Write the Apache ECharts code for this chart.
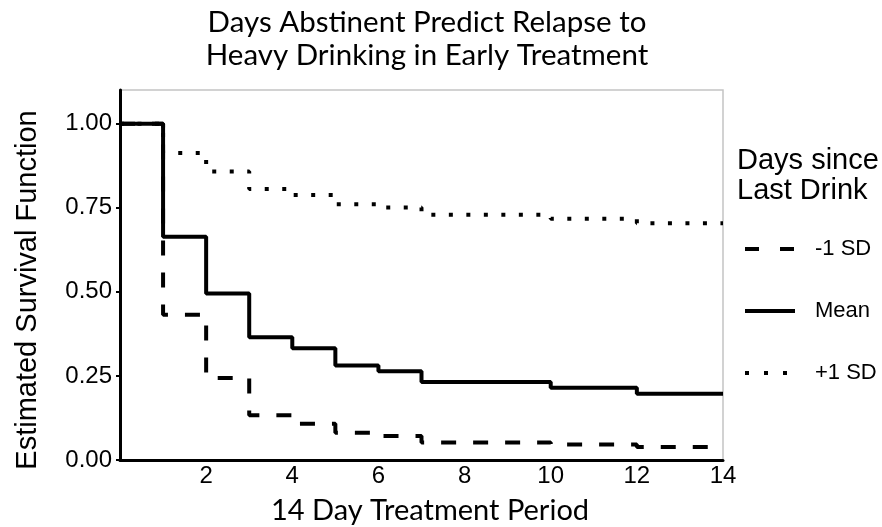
<!DOCTYPE html>
<html>
<head>
<meta charset="utf-8">
<script src="https://cdn.jsdelivr.net/npm/echarts@6/dist/echarts.min.js"></script>
<style>html,body{margin:0;padding:0;background:#fff;}#chart{width:882px;height:527px;}</style>
</head>
<body>
<div id="chart"></div>
<script>
// Step times (days) where the survival estimate changes; last entry closes the curve
var times = [0, 1, 2, 3, 4, 5, 6, 7, 10, 12, 14];
var minus1SD = [1.00, 0.432, 0.244, 0.133, 0.108, 0.081, 0.071, 0.052, 0.046, 0.039, 0.039];
var meanVals = [1.00, 0.664, 0.495, 0.365, 0.332, 0.281, 0.264, 0.232, 0.215, 0.197, 0.197];
var plus1SD  = [1.00, 0.913, 0.858, 0.806, 0.788, 0.760, 0.751, 0.729, 0.717, 0.704, 0.704];
var seriesNames = ['-1 SD', 'Mean', '+1 SD'];
var yTicks = [0, 0.25, 0.5, 0.75, 1.0];
var xTicks = [2, 4, 6, 8, 10, 12, 14];

function pairs(vals){ return times.map(function(t,i){ return [t, vals[i]]; }); }

var chart = echarts.init(document.getElementById('chart'), null, {renderer:'canvas'});
var lineStyles = [
  {color:'#000', width:4, type:[15,17], cap:'butt'},
  {color:'#000', width:4, type:'solid'},
  {color:'#000', width:4, type:[4,13.5], cap:'butt'}
];
var legendLineStyles = [
  {color:'#000', width:4, type:[14,21], cap:'butt'},
  {color:'#000', width:4, type:'solid'},
  {color:'#000', width:4, type:[4,15], cap:'butt'}
];
var datas = [minus1SD, meanVals, plus1SD];
var zs = [3, 4, 2];
var series = [2, 0, 1].map(function(k){
  return {
    name: seriesNames[k], type:'line', step:'end', data: pairs(datas[k]),
    symbol:'none', showSymbol:false, lineStyle: lineStyles[k], itemStyle:{color:'#000'},
    z: zs[k], animation:false
  };
});

chart.setOption({
  animation:false,
  title:[
    {text:'Days Abstinent Predict Relapse to\nHeavy Drinking in Early Treatment', left:422, textAlign:'center', top:1,
     textStyle:{fontFamily:'Lato', fontSize:29.5, fontWeight:'normal', color:'#000', lineHeight:33}},
    {text:'Days since\nLast Drink', left:737, top:146, padding:0,
     textStyle:{fontFamily:'Liberation Sans', fontSize:29, fontWeight:'normal', color:'#000', lineHeight:30}}
  ],
  legend:{
    orient:'vertical', left:743, top:238, itemWidth:50, itemHeight:14, itemGap:40, padding:0,
    data: seriesNames.map(function(n,i){ return {name:n, lineStyle: legendLineStyles[i], itemStyle:{color:'#000', opacity:0}}; }),
    textStyle:{fontFamily:'Liberation Sans', fontSize:22, color:'#000', padding:[0,0,0,15]},
    selectedMode:false
  },
  grid:{left:120, right:159, top:90, bottom:67, show:true, borderColor:'#c4c4c4', borderWidth:1.5,
        containLabel:false, outerBoundsMode:'none'},
  xAxis:{
    type:'value', min:0, max:14, interval:2,
    name:'14 Day Treatment Period', nameLocation:'middle', nameGap:36,
    nameTextStyle:{fontFamily:'Lato', fontSize:29, color:'#000', padding:[0,0,0,17]},
    axisLine:{show:true, onZero:false, lineStyle:{color:'#000', width:3}},
    axisTick:{show:false},
    splitLine:{show:false},
    axisLabel:{fontFamily:'Liberation Sans', fontSize:24, color:'#000', margin:4, customValues: xTicks}
  },
  yAxis:{
    type:'value', min:0, max:1.1, interval:0.25,
    axisLine:{show:true, lineStyle:{color:'#000', width:3}},
    axisTick:{show:true, length:4, lineStyle:{color:'#000', width:2}, customValues: yTicks},
    splitLine:{show:false},
    axisLabel:{fontFamily:'Liberation Sans', fontSize:24, color:'#000', margin:8, customValues: yTicks,
      formatter:function(v){ return v.toFixed(2); }}
  },
  graphic:[
    {type:'text', x:28, y:290, rotation:Math.PI/2, style:{text:'Estimated Survival Function', fontFamily:'Liberation Sans', fontSize:29, fill:'#000', align:'center', verticalAlign:'middle'}}
  ],
  series: series
});
</script>
</body>
</html>
